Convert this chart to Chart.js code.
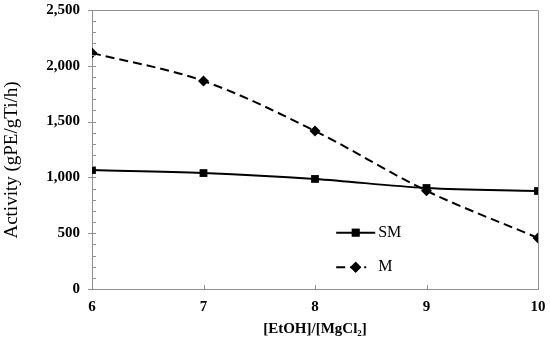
<!DOCTYPE html>
<html>
<head>
<meta charset="utf-8">
<script src="https://cdn.jsdelivr.net/npm/chart.js@4/dist/chart.umd.min.js"></script>
<style>
html,body{margin:0;padding:0;background:#fff;}
#wrap{width:550px;height:338px;}
</style>
</head>
<body>
<div id="wrap"><canvas id="c" width="550" height="338"></canvas></div>
<script>
const categories = [6, 7, 8, 9, 10];
const smValues = [1066, 1039, 986, 905, 878];
const mValues = [2115, 1864, 1416, 880, 457];
const seriesNames = ['SM', 'M'];
const yTickValues = [0, 500, 1000, 1500, 2000, 2500];
const xTitle = '[EtOH]/[MgCl\u2082]';
const yTitle = 'Activity (gPE/gTi/h)';

const AXIS_COLOR = '#8f8f8f';

const frameTicks = {
  id: 'frameTicks',
  afterDatasetsDraw(chart) {
    const ctx = chart.ctx, a = chart.chartArea;
    const ys = chart.scales.y, xs = chart.scales.x;
    ctx.save();
    ctx.strokeStyle = AXIS_COLOR;
    ctx.lineWidth = 1;
    ctx.beginPath();
    ctx.moveTo(a.left, a.top + 0.5); ctx.lineTo(a.right + 0.5, a.top + 0.5);
    ctx.lineTo(a.right + 0.5, a.bottom);
    ctx.stroke();
    for (let v = ys.min; v <= ys.max; v += 100) {
      const py = Math.round(ys.getPixelForValue(v)) + 0.5;
      const major = v % 500 === 0;
      ctx.beginPath();
      ctx.moveTo(a.left - (major ? 4 : 0), py);
      ctx.lineTo(a.left + 4, py);
      ctx.stroke();
    }
    categories.forEach(c => {
      const px = Math.round(xs.getPixelForValue(c)) + 0.5;
      ctx.beginPath();
      ctx.moveTo(px, a.bottom);
      ctx.lineTo(px, a.bottom - 4);
      ctx.stroke();
    });
    // y-axis title
    ctx.fillStyle = '#000';
    ctx.font = '19px "Liberation Serif"';
    ctx.textAlign = 'center';
    ctx.textBaseline = 'middle';
    ctx.translate(12, 160);
    ctx.rotate(-Math.PI / 2);
    ctx.fillText(yTitle, 0, 0);
    ctx.restore();
  }
};

const innerLegend = {
  id: 'innerLegend',
  afterDatasetsDraw(chart) {
    const ctx = chart.ctx;
    const xs = chart.scales.x, ys = chart.scales.y;
    const x0 = xs.getPixelForValue(8.19), x1 = xs.getPixelForValue(8.54);
    const rows = [ys.getPixelForValue(505), ys.getPixelForValue(195)];
    chart.data.datasets.forEach((ds, i) => {
      const y = rows[i];
      ctx.save();
      ctx.strokeStyle = ds.borderColor;
      ctx.lineWidth = ds.borderWidth;
      ctx.setLineDash(ds.borderDash || []);
      ctx.beginPath();
      ctx.moveTo(x0, y); ctx.lineTo(i === 0 ? x1 : x1 - 9, y);
      ctx.stroke();
      ctx.setLineDash([]);
      ctx.fillStyle = ds.pointBackgroundColor;
      Chart.helpers.drawPoint(ctx, {pointStyle: ds.pointStyle, radius: ds.pointRadius, rotation: 0, borderWidth: 0}, (x0 + x1) / 2, y);
      ctx.fill();
      ctx.fillStyle = '#000';
      ctx.font = '16px "Liberation Serif"';
      ctx.textBaseline = 'middle';
      ctx.textAlign = 'left';
      ctx.fillText(ds.label, x1 + 3, y);
      ctx.restore();
    });
  }
};

new Chart(document.getElementById('c'), {
  type: 'line',
  data: {
    datasets: [
      {
        label: seriesNames[0],
        data: categories.map((c, i) => ({x: c, y: smValues[i]})),
        borderColor: '#000', backgroundColor: '#000',
        pointBackgroundColor: '#000', pointBorderColor: '#000',
        borderWidth: 2, pointStyle: 'rect', pointRadius: 5.5, pointBorderWidth: 0,
        cubicInterpolationMode: 'monotone', fill: false
      },
      {
        label: seriesNames[1],
        data: categories.map((c, i) => ({x: c, y: mValues[i]})),
        borderColor: '#000', backgroundColor: '#000',
        pointBackgroundColor: '#000', pointBorderColor: '#000',
        borderWidth: 2, borderDash: [9, 5], pointStyle: 'rectRot', pointRadius: 5.5, pointBorderWidth: 0,
        cubicInterpolationMode: 'monotone', fill: false
      }
    ]
  },
  options: {
    responsive: false,
    animation: false,
    events: [],
    layout: {padding: {left: 0, right: 12, top: 10, bottom: 0}},
    plugins: {legend: {display: false}, tooltip: {enabled: false}},
    scales: {
      x: {
        type: 'linear', min: 6, max: 10,
        afterBuildTicks(s) { s.ticks = categories.map(v => ({value: v})); },
        afterFit(s) { s.height = 49; s.paddingLeft = 0; s.paddingRight = 0; },
        grid: {display: true, drawOnChartArea: false, drawTicks: false},
        border: {display: true, color: AXIS_COLOR, width: 1},
        ticks: {color: '#000', font: {family: 'Liberation Serif', size: 15, weight: 'bold'}, padding: 9, maxRotation: 0},
        title: {display: true, text: xTitle, color: '#000', font: {family: 'Liberation Serif', size: 15, weight: 'bold'}, padding: {top: 3, bottom: 0}}
      },
      y: {
        type: 'linear', min: 0, max: 2500,
        afterBuildTicks(s) { s.ticks = yTickValues.map(v => ({value: v})); },
        afterFit(s) { s.width = 92; s.paddingTop = 0; s.paddingBottom = 0; },
        grid: {display: true, drawOnChartArea: false, drawTicks: false},
        border: {display: true, color: AXIS_COLOR, width: 1},
        ticks: {color: '#000', font: {family: 'Liberation Serif', size: 15, weight: 'bold'}, padding: 12,
          callback: v => v.toLocaleString('en-US')},
        title: {display: false}
      }
    }
  },
  plugins: [frameTicks, innerLegend]
});
</script>
</body>
</html>
